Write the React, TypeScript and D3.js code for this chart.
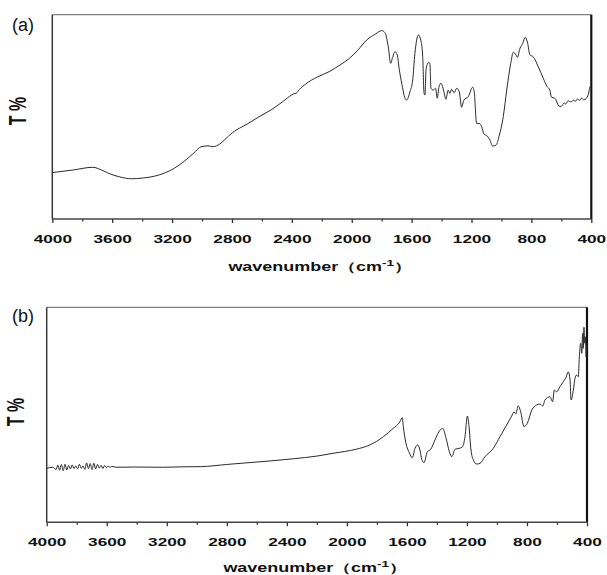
import React, { useRef, useEffect } from "react";
import * as d3 from "d3";

// panel (a) spectrum
const waveA = [
  4000, 3860, 3729, 3672, 3625, 3550, 3470, 3390, 3315, 3186, 3120, 3056, 3005, 2960, 2927, 2880,
  2850, 2798, 2700, 2620, 2539, 2460, 2400, 2390, 2370, 2350, 2307, 2230, 2151, 2078, 2023, 1960,
  1900, 1840, 1800, 1778, 1756, 1740, 1726, 1711, 1696, 1682, 1666, 1644, 1633, 1611, 1593, 1578,
  1555, 1539, 1526, 1517, 1511, 1504, 1489, 1478, 1471, 1456, 1440, 1429, 1417, 1404, 1393, 1382,
  1371, 1356, 1344, 1333, 1316, 1299, 1282, 1266, 1251, 1222, 1192, 1182, 1166, 1148, 1132, 1117,
  1095, 1077, 1059, 1036, 1014, 988, 965, 938, 921, 903, 894, 876, 858, 841, 825, 810, 788, 754,
  721, 695, 677, 666, 644, 616, 604, 592, 580, 572, 564, 555, 547, 535, 520, 507, 493, 478, 464,
  450, 435, 419, 408, 402,
];
const transA = [
  22.7, 24.0, 25.3, 24.0, 22.4, 20.6, 19.7, 20.1, 21.0, 24.8, 28.2, 32.2, 35.4, 35.8, 35.4, 36.8,
  38.7, 42.2, 46.4, 50.0, 53.4, 57.5, 60.8, 61.2, 61.6, 63.4, 66.1, 69.5, 72.1, 75.4, 78.2, 82.6,
  87.6, 90.6, 92.2, 91.2, 84.3, 76.2, 79.4, 81.9, 80.3, 72.9, 66.4, 59.1, 58.2, 62.3, 68.0, 81.1,
  90.1, 87.6, 79.4, 61.5, 60.7, 72.9, 76.5, 76.2, 64.0, 63.1, 64.0, 59.1, 64.8, 66.4, 64.8, 61.5,
  58.6, 63.1, 61.5, 63.5, 61.8, 64.0, 62.3, 54.7, 58.2, 59.9, 64.5, 62.3, 46.8, 46.8, 45.2, 41.6,
  40.6, 38.7, 35.7, 36.2, 41.1, 50.1, 63.1, 76.2, 81.6, 80.3, 79.1, 83.6, 86.0, 88.9, 86.0, 80.3,
  79.4, 74.5, 68.9, 64.8, 63.1, 59.6, 59.1, 55.3, 55.0, 55.8, 56.9, 56.2, 56.9, 57.9, 57.6, 57.3,
  58.2, 57.6, 58.7, 58.1, 59.2, 58.3, 58.9, 61.2, 64.8, 64.0,
];

// panel (b) spectrum
const waveB = [
  4000, 3960, 3950, 3938, 3926, 3914, 3902, 3890, 3878, 3866, 3854, 3842, 3830, 3818, 3806, 3794,
  3782, 3770, 3758, 3746, 3734, 3722, 3710, 3698, 3686, 3674, 3662, 3650, 3638, 3626, 3614, 3602,
  3590, 3578, 3566, 3537, 3420, 3227, 3100, 2969, 2800, 2659, 2500, 2350, 2200, 2092, 1937, 1846,
  1757, 1691, 1646, 1631, 1624, 1606, 1584, 1564, 1546, 1528, 1513, 1501, 1486, 1464, 1441, 1413,
  1379, 1361, 1339, 1317, 1301, 1279, 1251, 1228, 1213, 1197, 1186, 1173, 1157, 1135, 1113, 1080,
  1024, 980, 935, 902, 886, 875, 858, 842, 820, 798, 768, 735, 713, 695, 680, 647, 629, 618, 602,
  580, 558, 540, 525, 513, 506, 491, 480, 469, 458, 451, 442, 435, 429, 425, 420, 416, 411, 406,
  402, 400,
];
const transB = [
  25.1, 25.6, 25.3, 24.5, 26.6, 24.2, 26.9, 24.0, 27.0, 24.4, 26.4, 24.8, 26.7, 25.0, 26.2, 24.9,
  27.0, 25.1, 26.3, 24.6, 27.6, 25.0, 27.3, 24.5, 27.5, 24.8, 26.9, 25.2, 26.5, 25.0, 26.4, 25.4,
  26.2, 25.5, 26.0, 25.6, 25.7, 25.6, 25.8, 25.9, 26.9, 27.7, 28.6, 29.6, 30.8, 32.1, 34.0, 36.0,
  39.8, 43.7, 46.8, 48.7, 44.5, 36.7, 32.4, 30.0, 34.4, 36.0, 33.6, 29.3, 27.7, 32.8, 34.0, 38.3,
  42.9, 43.7, 39.1, 32.8, 30.5, 34.0, 34.4, 35.2, 39.8, 49.4, 44.5, 33.6, 29.0, 27.1, 27.4, 30.5,
  34.4, 39.8, 45.3, 49.4, 51.4, 50.4, 54.1, 51.4, 44.5, 46.0, 52.2, 54.6, 55.0, 54.1, 56.9, 58.4,
  56.1, 61.5, 60.7, 63.1, 65.4, 67.4, 70.0, 66.2, 56.9, 61.5, 67.0, 68.5, 67.7, 77.0, 83.3, 78.6,
  87.9, 80.9, 90.7, 83.3, 86.3, 77.0, 82.5, 80.0,
];

const majorTicks = [4000, 3600, 3200, 2800, 2400, 2000, 1600, 1200, 800, 400];
const minorTicks = [3800, 3400, 3000, 2600, 2200, 1800, 1400, 1000, 600];

const FONT = "'Liberation Sans', Arial, sans-serif";

type PanelCfg = {
  label: string;
  left: number;
  right: number;
  top: number;
  bottom: number;
  labelY: number;
  tickBase: number;
  titleX: number;
  titleY: number;
  yTitleX: number;
  yTitleY: number;
  wave: number[];
  trans: number[];
};

function drawPanel(svg: d3.Selection<SVGSVGElement, unknown, null, undefined>, c: PanelCfg) {
  const x = d3.scaleLinear().domain([4000, 400]).range([c.left, c.right]);
  const y = d3.scaleLinear().domain([0, 100]).range([c.bottom, c.top]);
  const g = svg.append("g");

  // frame
  g.append("line").attr("x1", c.left).attr("x2", c.right).attr("y1", c.top).attr("y2", c.top)
    .attr("stroke", "#808080").attr("stroke-width", 1.3);
  g.append("line").attr("x1", c.left).attr("x2", c.left).attr("y1", c.top).attr("y2", c.bottom)
    .attr("stroke", "#3a3a3a").attr("stroke-width", 1.5);
  g.append("line").attr("x1", c.right).attr("x2", c.right).attr("y1", c.top).attr("y2", c.bottom)
    .attr("stroke", "#111").attr("stroke-width", 2.2);

  // ticks
  const minorAxis = d3.axisBottom(x).tickValues(minorTicks).tickSize(2.5).tickFormat(() => "");
  g.append("g").attr("transform", `translate(0,${c.bottom})`).call(minorAxis)
    .call((a) => a.select(".domain").remove())
    .call((a) => a.selectAll("line").attr("stroke", "#333").attr("stroke-width", 1.3));

  const majorAxis = d3.axisBottom(x).tickValues(majorTicks).tickSize(4).tickFormat(d3.format("d"));
  const ax = g.append("g").attr("transform", `translate(0,${c.bottom})`).call(majorAxis);
  ax.select(".domain").attr("stroke", "#444").attr("stroke-width", 1.5).attr("d", `M${c.left},0H${c.right}`);
  ax.selectAll("line").attr("stroke", "#333").attr("stroke-width", 1.3);
  ax.selectAll("text")
    .attr("y", c.tickBase)
    .attr("dy", 0)
    .attr("transform", "scale(1.5,1)")
    .attr("fill", "#111")
    .style("font-family", FONT)
    .style("font-size", "11.5px")
    .style("font-weight", "bold");

  // curve
  const pts = c.wave.map((w, i) => [w, c.trans[i]] as [number, number]);
  const line = d3.line<[number, number]>().x((d) => x(d[0])).y((d) => y(d[1])).curve(d3.curveMonotoneX);
  g.append("path").attr("d", line(pts)).attr("fill", "none").attr("stroke", "#2a2a2a").attr("stroke-width", 1);

  // panel label
  g.append("text").attr("x", 12).attr("y", c.labelY).text(c.label)
    .style("font-family", FONT).style("font-size", "18px").attr("fill", "#111");

  // y title
  g.append("text")
    .attr("transform", `translate(${c.yTitleX},${c.yTitleY}) scale(1.5,1) rotate(-90)`)
    .attr("text-anchor", "middle")
    .style("font-family", FONT).style("font-size", "16px").style("font-weight", "bold")
    .attr("fill", "#111")
    .text("T %");

  // x title
  const t = g.append("text")
    .attr("transform", `translate(${c.titleX},${c.titleY}) scale(1.5,1)`)
    .attr("text-anchor", "middle")
    .style("font-family", FONT).style("font-size", "12px").style("font-weight", "bold")
    .attr("fill", "#111");
  t.append("tspan").text("wavenumber（cm");
  t.append("tspan").attr("dy", -5).style("font-size", "9px").text("-1");
  t.append("tspan").attr("dy", 5).text("）");
}

const App = () => {
  const svgRef = useRef<SVGSVGElement>(null);

  useEffect(() => {
    const svg = d3.select(svgRef.current!);
    svg.selectAll("*").remove();
    drawPanel(svg, {
      label: "(a)", left: 52.3, right: 591.3, top: 14.7, bottom: 219, labelY: 31,
      tickBase: 23.7, titleX: 320, titleY: 271, yTitleX: 26, yTitleY: 111,
      wave: waveA, trans: transA,
    });
    drawPanel(svg, {
      label: "(b)", left: 46.7, right: 587, top: 307.3, bottom: 522.3, labelY: 322,
      tickBase: 23.4, titleX: 315, titleY: 572, yTitleX: 24, yTitleY: 412,
      wave: waveB, trans: transB,
    });
  }, []);

  return (
    <div style={{ position: "absolute", left: 0, top: 0 }}>
      <svg ref={svgRef} width={607} height={575} style={{ display: "block", background: "#fff" }}></svg>
    </div>
  );
};

export default App;
